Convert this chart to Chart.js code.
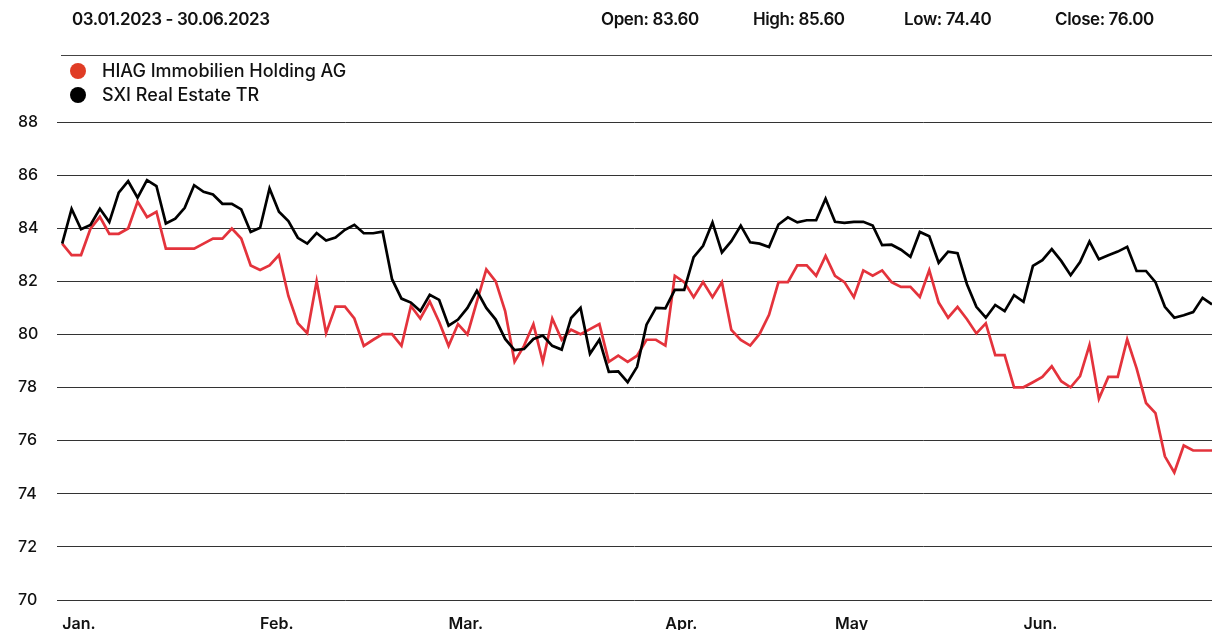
<!DOCTYPE html>
<html>
<head>
<meta charset="utf-8">
<script src="https://cdn.jsdelivr.net/npm/chart.js@4"></script>
<style>
    body { margin: 0; width: 1212px; height: 630px; overflow: hidden; background: #fff; font-family: Inter, "Liberation Sans", sans-serif; color: #111; }
    #wrap { position: relative; width: 1212px; height: 630px; }
    #chart { position: absolute; left: 0; top: 0; }
    .head { position: absolute; top: 9px; font-size: 17px; font-weight: 600; letter-spacing: -0.4px; white-space: nowrap; }
    .rule { position: absolute; left: 61px; right: 0; top: 55px; height: 1px; background: #444; }
    #legend { position: absolute; left: 70px; top: 59px; }
    #legend div { height: 24px; line-height: 24px; font-size: 18px; font-weight: 500; white-space: nowrap; }
    #legend span { display: inline-block; width: 16px; height: 16px; border-radius: 50%; vertical-align: -2px; margin-right: 16px; }
</style>
</head>
<body>
<div id="wrap">
    <canvas id="chart" width="1212" height="630"></canvas>
    <div class="head" style="left:72px">03.01.2023 - 30.06.2023</div>
    <div class="head" style="left:601px">Open: 83.60</div>
    <div class="head" style="left:753px">High: 85.60</div>
    <div class="head" style="left:904px">Low: 74.40</div>
    <div class="head" style="left:1055px">Close: 76.00</div>
    <div class="rule"></div>
    <div id="legend"></div>
</div>
<script>
// Month labels and the trading-day index where each month starts
const monthLabels = ['Jan.', 'Feb.', 'Mar.', 'Apr.', 'May', 'Jun.'];
const monthStarts = [0, 21, 41, 64, 82, 102];

const seriesNames = ['HIAG Immobilien Holding AG', 'SXI Real Estate TR'];
const legendColors = ['#e03c25', '#000000'];

// Daily values, 03.01.2023 - 30.06.2023
const hiag = [
    83.42, 82.99, 82.99, 83.98, 84.43, 83.79, 83.79, 83.99, 85.00, 84.42,
    84.62, 83.23, 83.23, 83.23, 83.23, 83.42, 83.61, 83.61, 83.99, 83.61,
    82.60, 82.43, 82.60, 82.99, 81.45, 80.42, 80.05, 82.00, 80.05, 81.05,
    81.05, 80.60, 79.57, 79.80, 80.01, 80.01, 79.57, 81.07, 80.60, 81.24,
    80.47, 79.57, 80.39, 80.00, 81.24, 82.45, 82.00, 80.88, 78.97, 79.57,
    80.39, 78.97, 80.60, 79.80, 80.18, 80.01, 80.20, 80.39, 78.97, 79.20,
    78.97, 79.20, 79.80, 79.80, 79.58, 82.21, 81.97, 81.40, 81.97, 81.40,
    81.97, 80.17, 79.79, 79.58, 80.02, 80.74, 81.97, 81.97, 82.60, 82.60,
    82.21, 82.96, 82.21, 81.97, 81.40, 82.41, 82.21, 82.41, 81.97, 81.79,
    81.79, 81.41, 82.42, 81.20, 80.63, 81.04, 80.57, 80.04, 80.42, 79.22,
    79.22, 78.01, 78.01, 78.20, 78.40, 78.80, 78.24, 78.01, 78.43, 79.60,
    77.58, 78.40, 78.40, 79.81, 78.72, 77.42, 77.04, 75.41, 74.80, 75.82,
    75.63, 75.63, 75.63
];
const sxi = [
    83.42, 84.73, 83.96, 84.12, 84.73, 84.23, 85.34, 85.77, 85.15, 85.81,
    85.59, 84.18, 84.36, 84.77, 85.62, 85.37, 85.27, 84.92, 84.92, 84.71,
    83.86, 84.02, 85.50, 84.62, 84.27, 83.64, 83.42, 83.82, 83.54, 83.65,
    83.94, 84.13, 83.81, 83.81, 83.87, 82.08, 81.35, 81.20, 80.88, 81.49,
    81.30, 80.33, 80.56, 81.00, 81.64, 81.00, 80.56, 79.83, 79.41, 79.45,
    79.83, 79.96, 79.57, 79.43, 80.62, 81.00, 79.27, 79.80, 78.59, 78.61,
    78.20, 78.78, 80.37, 81.00, 80.98, 81.68, 81.68, 82.91, 83.34, 84.22,
    83.09, 83.51, 84.10, 83.47, 83.42, 83.29, 84.14, 84.41, 84.22, 84.30,
    84.30, 85.11, 84.24, 84.20, 84.24, 84.24, 84.10, 83.36, 83.38, 83.19,
    82.92, 83.86, 83.70, 82.70, 83.12, 83.06, 81.89, 81.04, 80.63, 81.11,
    80.88, 81.48, 81.23, 82.58, 82.80, 83.21, 82.77, 82.23, 82.73, 83.50,
    82.83, 82.98, 83.12, 83.30, 82.39, 82.39, 81.97, 81.04, 80.63, 80.72,
    80.84, 81.38, 81.13
];

const yTicks = [70, 72, 74, 76, 78, 80, 82, 84, 86, 88];

// Legend
const legend = document.getElementById('legend');
seriesNames.forEach((name, i) => {
    const row = document.createElement('div');
    row.innerHTML = '<span style="background:' + legendColors[i] + '"></span>' + name;
    legend.appendChild(row);
});

const toPoints = arr => arr.map((v, i) => ({ x: i, y: v }));
const tickFont = { family: 'Inter, "Liberation Sans", sans-serif', size: 16, weight: 500 };

new Chart(document.getElementById('chart'), {
    type: 'line',
    data: {
        datasets: [
            {
                label: seriesNames[0],
                data: toPoints(hiag),
                borderColor: '#e4333c',
                borderWidth: 2.7,
                pointRadius: 0,
                order: 1
            },
            {
                label: seriesNames[1],
                data: toPoints(sxi),
                borderColor: '#000',
                borderWidth: 2.7,
                pointRadius: 0,
                order: 0
            }
        ]
    },
    options: {
        responsive: false,
        animation: false,
        devicePixelRatio: 1,
        layout: { padding: { top: 122, left: 18, right: 0, bottom: 0 } },
        plugins: {
            legend: { display: false },
            tooltip: { enabled: false }
        },
        scales: {
            x: {
                type: 'linear',
                min: -0.55,
                max: 122,
                grid: { display: false },
                border: { display: false },
                afterBuildTicks: axis => { axis.ticks = monthStarts.map(v => ({ value: v })); },
                afterFit: axis => { axis.height = 30; },
                ticks: {
                    autoSkip: false,
                    maxRotation: 0,
                    align: 'start',
                    padding: 7,
                    color: '#111',
                    font: { ...tickFont, weight: 600 },
                    callback: (value, index) => monthLabels[index]
                }
            },
            y: {
                min: 70,
                max: 88,
                afterBuildTicks: axis => { axis.ticks = yTicks.map(v => ({ value: v })); },
                afterFit: axis => { axis.width = 39; },
                grid: { color: '#333', lineWidth: 1, drawTicks: false },
                border: { display: false },
                ticks: {
                    crossAlign: 'far',
                    color: '#111',
                    font: tickFont
                }
            }
        }
    }
});
</script>
</body>
</html>
